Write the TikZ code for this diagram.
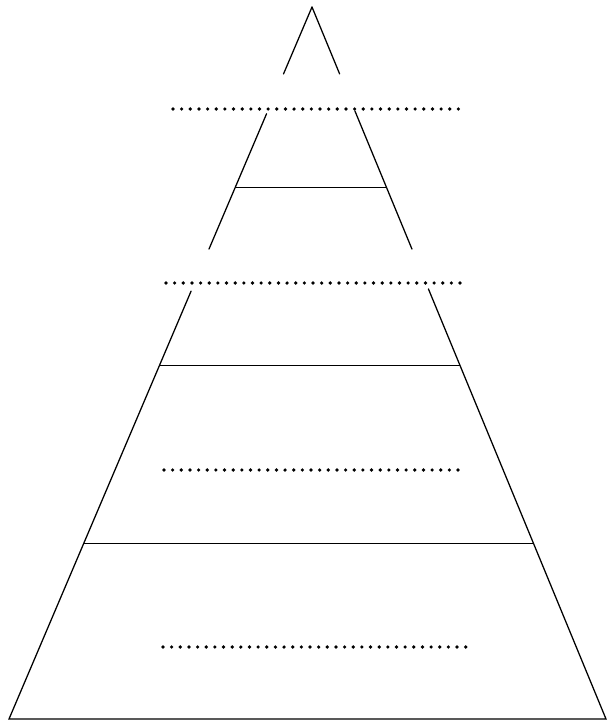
\documentclass[tikz,border=0pt]{standalone}
\usepackage{tikz}
\usetikzlibrary{calc}

\begin{document}
\begin{tikzpicture}[
    x=0.025cm, y=-0.025cm,
    side/.style={line width=0.9pt, line cap=round},
    level/.style={line width=0.9pt},
    dotrow/.style={line width=2.6pt, line cap=round, dash pattern=on 0pt off 6.15pt}
]
\useasboundingbox (0,0) rectangle (613,723);

% Outline of the pyramid
\coordinate (apex) at (312,7);
\coordinate (bl) at (9,719);
\coordinate (br) at (606,719);

% Top piece
\draw[side] (apex) -- ($(apex)!0.094!(bl)$);
\draw[side] (apex) -- ($(apex)!0.094!(br)$);

% Middle piece
\draw[side] ($(apex)!0.150!(bl)$) -- ($(apex)!0.340!(bl)$);
\draw[side] ($(apex)!0.146!(br)$) -- ($(apex)!0.340!(br)$);
\draw[level] ($(apex)!0.253!(bl)$) -- ($(apex)!0.253!(br)$);

% Lower piece
\draw[side] ($(apex)!0.399!(bl)$) -- (bl) -- (br) -- ($(apex)!0.396!(br)$);
\draw[level] ($(apex)!0.503!(bl)$) -- ($(apex)!0.503!(br)$);
\draw[level] ($(apex)!0.753!(bl)$) -- ($(apex)!0.753!(br)$);

% Dotted rows
\coordinate (d1l) at (173,109);
\coordinate (d1r) at (460,109);
\coordinate (d2l) at (166,283);
\coordinate (d2r) at (462,283);
\coordinate (d3l) at (164,470);
\coordinate (d3r) at (461,470);
\coordinate (d4l) at (163,647);
\coordinate (d4r) at (466,647);
\draw[dotrow] (d1l) -- (d1r);
\draw[dotrow] (d2l) -- (d2r);
\draw[dotrow] (d3l) -- (d3r);
\draw[dotrow] (d4l) -- (d4r);

\end{tikzpicture}
\end{document}
